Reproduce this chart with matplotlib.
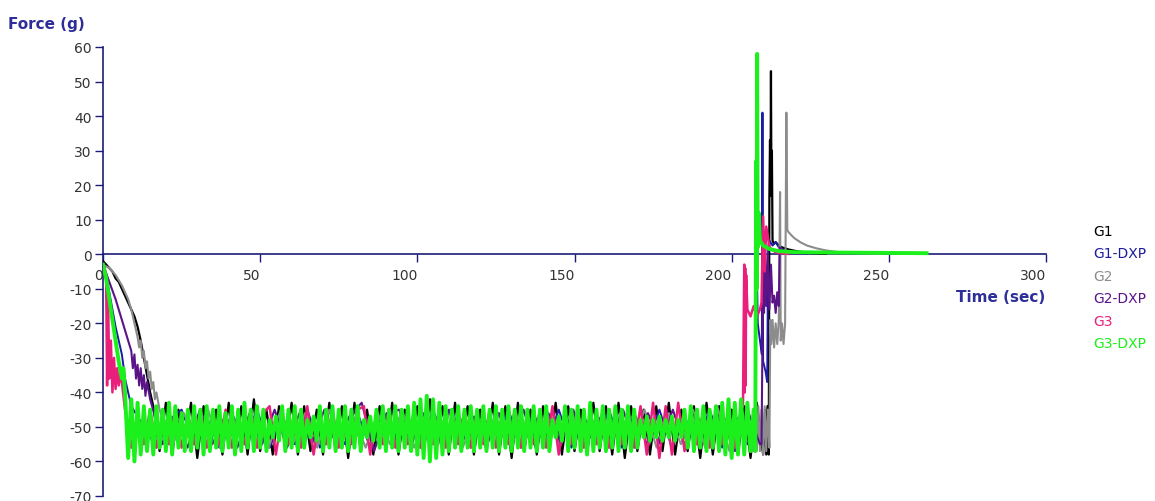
import numpy as np
import matplotlib.pyplot as plt

plt.rcParams['axes.unicode_minus'] = False

# G1
g1_desc_t = [0, 1, 2, 3, 4, 5, 6, 7, 8, 9, 10, 11, 12, 13, 14, 15]
g1_desc_v = [-2, -3, -4, -5, -7, -8, -10, -12, -14, -16, -18, -21, -25, -30, -35, -40]
g1_band = [-44, -57, -43, -58, -45, -56, -43, -59, -44, -57,
           -45, -58, -43, -57, -44, -58, -42, -57, -45, -58,
           -44, -56, -43, -58, -44, -57, -45, -58, -43, -57,
           -44, -59, -43, -57, -45, -58, -44, -57, -43, -58,
           -45, -57, -44, -58, -42, -57, -44, -58, -43, -57,
           -44, -58, -45, -57, -43, -58, -44, -59, -43, -57,
           -45, -58, -44, -57, -43, -58, -44, -57, -45, -58,
           -43, -57, -44, -58, -43, -59, -44, -57, -45, -58,
           -44, -57, -43, -58, -45, -57, -44, -59, -43, -58,
           -44, -57, -45, -58, -44, -59, -43, -58]
g1_tail_t = [210.6, 211.0, 211.4, 211.8, 212.0, 212.2, 212.35, 212.5, 212.65, 212.8,
             213.0, 213.4, 214, 215, 216, 218, 220, 222, 225, 230]
g1_tail_v = [-45, -58, -44, -58, 17, 33, 17, 53, 18, 30,
             4, 3, 3.5, 2.5, 2, 1.4, 1, 0.7, 0.3, 0.1]

# G1-DXP
g1d_desc_t = [0, 1, 2, 3, 4, 5, 6, 6.6, 7, 8]
g1d_desc_v = [-3, -6, -11, -16, -21, -25, -29, -33, -36, -40]
g1d_band = [-44, -50, -56, -48, -45, -55, -47, -56, -46, -54,
            -45, -56, -47, -55, -45, -56, -48, -55, -46, -56,
            -45, -54, -47, -56, -45, -55, -46, -56, -47, -55,
            -45, -56, -46, -55, -45, -56, -47, -54, -45, -56,
            -46, -55, -45, -56, -47, -55, -45, -56, -46, -55]
g1d_tail_t = [206, 207, 207.6, 207.9, 208.3, 209, 209.6, 209.8, 210.0, 210.8,
              211.3, 211.6, 212, 213, 214, 215, 216, 218, 220, 224]
g1d_tail_v = [-55, -45, -55, 3, -20, -25, -29, 41, -31, -34,
              -37, 2, 4, 2.5, 3.5, 2, 1.5, 0.8, 0.4, 0.1]

# G2
g2_desc_t = [0, 2, 4, 6, 8, 9, 10, 11, 11.5, 12, 12.5, 13, 13.5, 14, 14.5, 15, 15.5, 16, 16.5, 17]
g2_desc_v = [-3, -4, -6, -9, -13, -16, -20, -24, -27, -25, -30, -28, -33, -31, -36, -34, -39, -37, -42, -40]
g2_band = [-45, -56, -46, -55, -45, -56, -47, -55, -46, -56,
           -45, -55, -46, -56, -45, -55, -47, -56, -46, -55,
           -45, -56, -46, -55, -45, -56, -47, -55, -46, -56,
           -45, -55, -46, -56, -45, -55, -47, -56, -46, -55,
           -45, -56, -46, -55, -45, -56, -44, -57, -45, -57]
g2_tail_t = [207.5, 208, 208.5, 209, 209.5, 210, 210.5, 211, 211.5, 212,
             212.3, 212.6, 213, 213.5, 214, 214.5, 215, 215.4, 215.6, 216,
             216.5, 217, 217.4, 217.7, 218, 219, 220, 222, 224, 227,
             230, 234, 240, 248]
g2_tail_v = [-45, -57, -44, -57, -45, -58, -44, -57, -45, -56,
             -19, -26, -19, -27, -20, -26, -19, 18, -25, -20,
             -26, -20, 41, 7, 6.5, 5.5, 4.6, 3.4, 2.5, 1.7,
             1.1, 0.6, 0.3, 0.1]

# G2-DXP
g2d_desc_t = [0, 2, 4, 6, 7, 8, 9, 9.5, 10, 10.5, 11, 11.5, 12, 12.5, 13, 13.5, 14]
g2d_desc_v = [-3, -8, -13, -19, -22, -25, -28, -33, -29, -36, -32, -38, -33, -39, -35, -41, -37]
g2d_band = [-42, -55, -46, -56, -45, -55, -47, -56, -46, -55,
            -45, -56, -46, -55, -45, -56, -47, -43, -57, -46,
            -45, -55, -46, -56, -45, -55, -47, -56, -46, -55,
            -45, -56, -46, -55, -45, -56, -47, -55, -45, -56,
            -46, -55, -45, -56, -47, -55, -46, -57, -45, -55]
g2d_tail_t = [209.5, 210, 210.3, 210.6, 211, 211.5, 212, 212.5, 213, 213.5,
              214, 214.5, 215, 215.3, 216, 218, 222]
g2d_tail_v = [-55, -5, -17, 2, -15, 0, -16, -3, -14, -12,
              -17, -11, -15, 2, 1, 0.5, 0.1]

# G3
g3_desc_t = [0, 0.5, 1, 1.3, 1.6, 2, 2.5, 3, 3.5, 4, 4.5, 5, 5.5, 6]
g3_desc_v = [-3, -4, -6, -38, -12, -36, -25, -40, -30, -39, -33, -38, -35, -37]
g3_band = [-45, -56, -46, -55, -45, -56, -46, -55, -45, -56,
           -46, -55, -45, -56, -46, -55, -45, -56, -46, -55,
           -45, -56, -46, -44, -58, -46, -55, -45, -56, -44,
           -58, -46, -55, -45, -56, -46, -55, -45, -44, -58,
           -46, -55, -45, -56, -46, -55, -45, -56, -46, -55,
           -45, -56, -46, -55, -45, -56, -46, -55, -45, -56,
           -46, -55, -45, -56, -46, -55, -45, -56, -44, -58,
           -46, -55, -45, -56, -46, -55, -45, -56, -46, -55,
           -45, -56, -44, -58, -43, -59, -44, -58, -43, -57,
           -46, -55, -45, -56, -46, -55, -45, -56, -45]
g3_tail_t = [203.6, 204.0, 204.15, 204.3, 204.45, 204.6, 205, 206, 207, 208,
             209, 209.5, 210, 210.5, 211, 212, 214, 218]
g3_tail_v = [-44, -3, -40, -4, -38, -6, -16, -18, -15, -18,
             -16, -14, 11, -5, 8, 2, 0.5, 0.1]

# G3-DXP
g3d_desc_t = [0, 1, 2, 3, 4, 5, 6, 6.5]
g3d_desc_v = [-3, -7, -13, -19, -25, -31, -36, -33]
g3d_band = [-40, -59, -42, -60, -43, -58, -44, -57, -45, -58,
            -44, -56, -45, -57, -43, -58, -44, -56, -46, -57,
            -45, -57, -44, -56, -45, -58, -44, -57, -45, -56,
            -44, -57, -46, -56, -44, -58, -45, -57, -43, -56,
            -45, -57, -44, -56, -45, -57, -48, -53, -47, -54,
            -44, -57, -45, -56, -44, -57, -45, -56, -48, -53,
            -47, -54, -44, -57, -45, -56, -44, -57, -45, -56,
            -44, -57, -45, -56, -44, -57, -48, -53, -47, -54,
            -45, -56, -44, -57, -45, -56, -44, -57, -45, -56,
            -44, -57, -43, -58, -42, -59, -41, -60, -42, -59,
            -43, -58, -44, -57, -45, -56, -44, -57, -45, -56,
            -44, -57, -45, -56, -44, -57, -45, -56, -44, -57,
            -45, -56, -44, -57, -45, -56, -44, -57, -45, -56,
            -44, -57, -45, -56, -44, -57, -48, -53, -47, -54,
            -44, -57, -45, -56, -44, -57, -45, -58, -43, -57,
            -45, -56, -44, -57, -45, -56, -44, -57, -45, -56,
            -44, -57, -45, -56, -48, -53, -47, -54, -48, -53,
            -47, -54, -48, -53, -47, -54, -48, -53, -45, -56,
            -44, -57, -45, -56, -44, -57, -45, -56, -44, -57,
            -43, -58, -42, -59, -43, -58, -42, -58, -43, -57, -45]
g3d_tail_t = [207.5, 207.8, 207.95, 208.1, 208.3, 208.6, 209, 210, 212, 215,
              220, 230, 245, 262]
g3d_tail_v = [-57, 27, -10, 58, 2, 12, 4, 2.5, 1.5, 0.9,
              0.6, 0.5, 0.4, 0.3]

labels = ['G1', 'G1-DXP', 'G2', 'G2-DXP', 'G3', 'G3-DXP']
colors = ['#000000', '#1c1ca0', '#8c8c8c', '#5a1488', '#e8207c', '#1cf01c']

series = [
    (g1_desc_t, g1_desc_v, g1_band, 16, 210, g1_tail_t, g1_tail_v),
    (g1d_desc_t, g1d_desc_v, g1d_band, 9, 205, g1d_tail_t, g1d_tail_v),
    (g2_desc_t, g2_desc_v, g2_band, 18, 207, g2_tail_t, g2_tail_v),
    (g2d_desc_t, g2d_desc_v, g2d_band, 15, 209, g2d_tail_t, g2d_tail_v),
    (g3_desc_t, g3_desc_v, g3_band, 7, 203, g3_tail_t, g3_tail_v),
    (g3d_desc_t, g3d_desc_v, g3d_band, 7, 207, g3d_tail_t, g3d_tail_v),
]
widths = [1.6, 1.4, 1.5, 1.5, 1.8, 2.8]

navy = '#1c1c78'

fig = plt.figure(figsize=(11.55, 5.02), dpi=100)
ax = fig.add_axes([103 / 1155, 5 / 502, 943 / 1155, 449 / 502])

for (dt, dv, band, b0, b1, tt, tv), c, lw in zip(series, colors, widths):
    t = np.concatenate([dt, np.linspace(b0, b1, len(band)), tt])
    v = np.concatenate([dv, band, tv])
    ax.plot(t, v, color=c, lw=lw)

ax.set_xlim(0, 300)
ax.set_ylim(-70, 60)
ax.set_xticks([0, 50, 100, 150, 200, 250, 300])
ax.set_yticks(range(-70, 61, 10))

for s in ['top', 'right']:
    ax.spines[s].set_visible(False)
ax.spines['bottom'].set_position(('data', 0))
for s in ['bottom', 'left']:
    ax.spines[s].set_color(navy)
    ax.spines[s].set_linewidth(1.2)
    ax.spines[s].set_zorder(1)

ax.tick_params(direction='out', length=6, width=1, color=navy,
               labelsize=10, labelcolor='#333333')
ax.tick_params(axis='y', pad=2)
ax.tick_params(axis='x', pad=4)
plt.setp(ax.get_xticklabels(), ha='right')

fig.text(8 / 1155, 1 - 25 / 502, 'Force (g)', color='#2e2e99', fontsize=11,
         fontweight='bold', va='center', ha='left')
fig.text(1045 / 1155, 1 - 297 / 502, 'Time (sec)', color='#2e2e99', fontsize=11,
         fontweight='bold', va='center', ha='right')

for i, (lab, c) in enumerate(zip(labels, colors)):
    fig.text(1093 / 1155, 1 - (232 + 22.4 * i) / 502, lab, color=c,
             fontsize=10, va='center', ha='left')

fig.savefig('out.png', dpi=100)
